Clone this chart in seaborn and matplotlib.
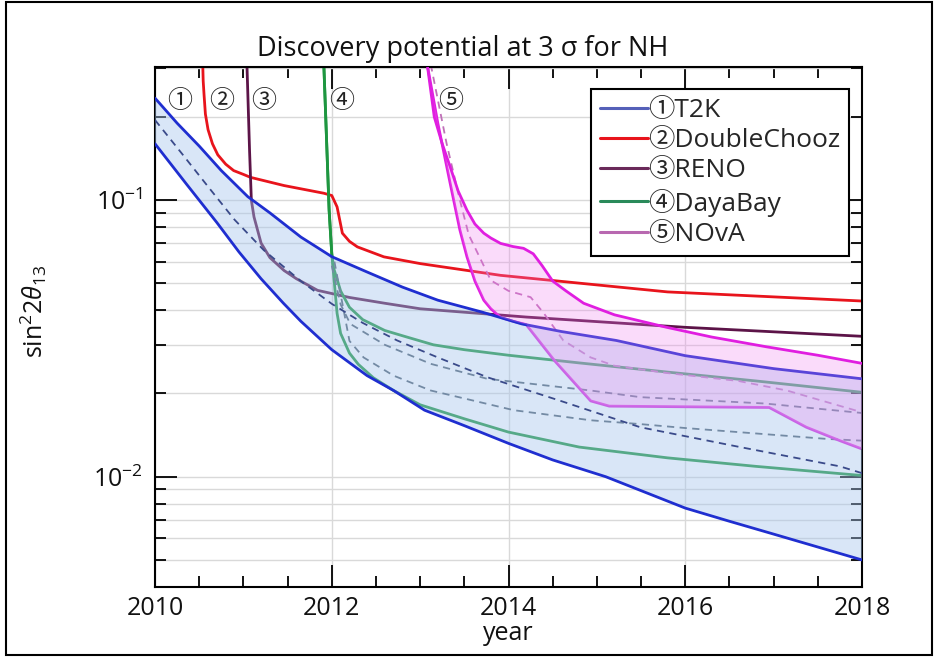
import numpy as np
import pandas as pd
import matplotlib
matplotlib.use("Agg")
import matplotlib.pyplot as plt
import seaborn as sns
from matplotlib.lines import Line2D
from matplotlib.patches import Rectangle
from matplotlib.ticker import MultipleLocator, LogLocator, NullFormatter

# ---------------- data ----------------
t2k_hi_year = [2010.0, 2010.25, 2010.5, 2010.75, 2011.05, 2011.3, 2011.65, 2012.0, 2012.4, 2012.8,
               2013.2, 2013.7, 2014.15, 2014.6, 2015.22, 2016.0, 2017.0, 2018.0]
t2k_hi_val = [0.234, 0.19, 0.157, 0.128, 0.103, 0.090, 0.0736, 0.0625, 0.055, 0.0485,
              0.0435, 0.0394, 0.0357, 0.0335, 0.0311, 0.0274, 0.0246, 0.0226]

t2k_lo_year = [2010.0, 2010.35, 2010.7, 2010.95, 2011.2, 2011.45, 2011.65, 2012.0, 2012.4, 2012.7,
               2013.05, 2013.5, 2014.0, 2014.5, 2015.1, 2016.0, 2016.5, 2017.0, 2018.0]
t2k_lo_val = [0.16, 0.115, 0.083, 0.065, 0.052, 0.0425, 0.0365, 0.0288, 0.0232, 0.0205,
              0.0174, 0.0153, 0.0132, 0.0115, 0.0100, 0.0077, 0.0069, 0.0062, 0.0050]

t2k_mid_year = [2010.0, 2010.3, 2010.6, 2010.9, 2011.23, 2011.65, 2012.0, 2012.35, 2012.74, 2013.2,
                2013.76, 2014.59, 2015.49, 2016.62, 2017.75, 2018.0]
t2k_mid_val = [0.195, 0.148, 0.112, 0.085, 0.066, 0.051, 0.0422, 0.036, 0.0311, 0.027,
               0.0229, 0.0188, 0.0151, 0.0128, 0.0109, 0.0103]

dash_b_year = [2012.0, 2012.1, 2012.21, 2012.6, 2013.12, 2013.76, 2014.93, 2015.49, 2016.9, 2018.0]
dash_b_val = [0.058, 0.042, 0.0357, 0.030, 0.0256, 0.0226, 0.0205, 0.0194, 0.0184, 0.0170]

dash_c_year = [2012.03, 2012.2, 2012.36, 2012.7, 2013.12, 2014.06, 2014.93, 2015.49, 2016.0, 2017.6, 2018.0]
dash_c_val = [0.06, 0.031, 0.027, 0.0232, 0.0205, 0.0174, 0.016, 0.0155, 0.0150, 0.0137, 0.0135]

dc_year = [2010.54, 2010.545, 2010.555, 2010.57, 2010.6, 2010.65, 2010.71, 2010.8, 2010.89, 2011.0,
           2011.08, 2011.46, 2011.91, 2012.0, 2012.06, 2012.12, 2012.2, 2012.29, 2012.59, 2013.0,
           2013.91, 2015.8, 2018.0]
dc_val = [0.31, 0.27, 0.24, 0.205, 0.18, 0.16, 0.146, 0.135, 0.128, 0.124,
          0.121, 0.113, 0.106, 0.104, 0.0946, 0.076, 0.071, 0.0678, 0.0624, 0.059,
          0.0535, 0.0466, 0.0432]

reno_year = [2011.04, 2011.07, 2011.09, 2011.12, 2011.2, 2011.3, 2011.46, 2011.6, 2011.84, 2012.2,
             2012.6, 2013.0, 2013.7, 2014.2, 2016.0, 2018.0]
reno_val = [0.31, 0.15, 0.10, 0.087, 0.070, 0.062, 0.0557, 0.052, 0.0472, 0.0445,
            0.0424, 0.0405, 0.0389, 0.0378, 0.0347, 0.0322]

db_hi_year = [2011.91, 2011.97, 2012.0, 2012.02, 2012.1, 2012.2, 2012.35, 2012.6, 2012.85, 2013.15,
              2013.5, 2014.0, 2014.8, 2015.8, 2016.8, 2018.0]
db_hi_val = [0.31, 0.092, 0.064, 0.057, 0.047, 0.041, 0.037, 0.0338, 0.032, 0.030,
             0.0288, 0.0275, 0.0258, 0.0239, 0.0222, 0.0202]

db_lo_year = [2011.91, 2011.97, 2012.0, 2012.06, 2012.1, 2012.2, 2012.3, 2012.47, 2012.7, 2013.0,
              2013.5, 2014.0, 2014.8, 2015.8, 2016.8, 2018.0]
db_lo_val = [0.31, 0.092, 0.064, 0.039, 0.033, 0.028, 0.0255, 0.0228, 0.0205, 0.0182,
             0.0162, 0.0145, 0.0128, 0.0117, 0.0109, 0.0101]

nova_hi_year = [2013.08, 2013.16, 2013.25, 2013.34, 2013.43, 2013.53, 2013.62, 2013.72, 2013.8, 2013.91,
                2014.05, 2014.17, 2014.28, 2014.38, 2014.5, 2014.65, 2014.85, 2015.2, 2015.79, 2016.3,
                2016.92, 2017.5, 2018.0]
nova_hi_val = [0.31, 0.2, 0.16, 0.132, 0.108, 0.092, 0.082, 0.076, 0.073, 0.0698,
               0.068, 0.067, 0.064, 0.058, 0.051, 0.047, 0.0424, 0.0385, 0.0347, 0.032,
               0.0295, 0.0275, 0.0257]

nova_lo_year = [2013.08, 2013.2, 2013.34, 2013.45, 2013.53, 2013.62, 2013.72, 2013.8, 2013.91, 2014.05,
                2014.2, 2014.52, 2014.93, 2015.14, 2016.95, 2017.37, 2017.75, 2018.0]
nova_lo_val = [0.31, 0.19, 0.115, 0.078, 0.0624, 0.051, 0.0435, 0.0405, 0.0377, 0.0365,
               0.0355, 0.0263, 0.0188, 0.018, 0.0178, 0.0151, 0.0135, 0.0126]

nova_mid_year = [2013.12, 2013.3, 2013.45, 2013.55, 2013.8, 2014.0, 2014.25, 2014.4, 2014.62, 2014.93,
                 2015.2, 2015.8, 2016.6, 2017.15, 2018.0]
nova_mid_val = [0.31, 0.16, 0.10, 0.075, 0.0513, 0.047, 0.0446, 0.039, 0.0311, 0.027,
                0.0252, 0.0237, 0.0222, 0.0205, 0.0171]

experiments = ["T2K", "DoubleChooz", "RENO", "DayaBay", "NOvA"]
markers = ["\u2460", "\u2461", "\u2462", "\u2463", "\u2464"]
marker_year = [2010.28, 2010.75, 2011.23, 2012.11, 2013.35]
marker_val = [0.228, 0.228, 0.228, 0.228, 0.228]

title = "Discovery potential at 3 \u03c3 for NH"
xlabel = "year"
ylabel = r"$\mathrm{sin}^{2}2\theta_{13}$"
x_ticks = [2010, 2012, 2014, 2016, 2018]

# ---------------- style ----------------
sns.set_theme(style="white")
plt.rcParams["font.family"] = ["Open Sans", "Noto Sans CJK JP", "DejaVu Sans"]
plt.rcParams["mathtext.fontset"] = "custom"
plt.rcParams["mathtext.rm"] = "Open Sans"
plt.rcParams["mathtext.it"] = "Open Sans:italic"
plt.rcParams["mathtext.bf"] = "Open Sans:bold"

C_BLUE = "#1f2ed0"
C_RED = "#e8141c"
C_RENO = "#5c1448"
C_GREEN = "#1e9640"
C_MAG = "#e01ee0"
C_DASH = "#3a4a8a"

fig = plt.figure(figsize=(9.39, 6.62), dpi=100)
fig.patch.set_facecolor("white")
ax = fig.add_axes([0.1651, 0.1137, 0.918 - 0.1651, 0.8992 - 0.1137])
ax.set_facecolor("white")
ax.set_yscale("log")

LW = 2.0

def line(xs, ys, color, lw=LW, z=2, **kw):
    sns.lineplot(x=np.asarray(xs), y=np.asarray(ys), ax=ax, color=color, lw=lw,
                 sort=False, estimator=None, zorder=z, legend=False, **kw)

# lines under the fills
line(dc_year, dc_val, C_RED)
line(reno_year, reno_val, C_RENO)
line(db_hi_year, db_hi_val, C_GREEN)
line(db_lo_year, db_lo_val, C_GREEN)
line(dash_b_year, dash_b_val, "#506070", lw=1.3, linestyle=(0, (4, 3)))
line(dash_c_year, dash_c_val, "#506070", lw=1.3, linestyle=(0, (4, 3)))
line(nova_lo_year, nova_lo_val, C_MAG)
line(nova_mid_year, nova_mid_val, "#c070b8", lw=1.3, linestyle=(0, (4, 3)))

# T2K band
poly_x = list(t2k_hi_year) + list(t2k_lo_year)[::-1]
poly_y = list(t2k_hi_val) + list(t2k_lo_val)[::-1]
ax.fill(poly_x, poly_y, color="#a5c5ed", alpha=0.42, lw=0, zorder=3)
line(t2k_hi_year, t2k_hi_val, C_BLUE, z=3.5)
line(t2k_lo_year, t2k_lo_val, C_BLUE, z=3.5)
line(t2k_mid_year, t2k_mid_val, C_DASH, lw=1.3, z=3.5, linestyle=(0, (4, 3)))

# NOvA band
poly_x = list(nova_hi_year) + list(nova_lo_year)[::-1]
poly_y = list(nova_hi_val) + list(nova_lo_val)[::-1]
ax.fill(poly_x, poly_y, color="#f080f0", alpha=0.28, lw=0, zorder=4)
line(nova_hi_year, nova_hi_val, C_MAG, z=5)

# circled numbers
for m, xx, yy in zip(markers, marker_year, marker_val):
    ax.text(xx, yy, m, ha="center", va="center", fontsize=18,
            family=["Noto Sans CJK JP", "DejaVu Sans"], color="#222222", zorder=6)

# axes
ax.set_xlim(2010, 2018)
ax.set_ylim(0.004, 0.304)
ax.xaxis.set_major_locator(MultipleLocator(2))
ax.xaxis.set_minor_locator(MultipleLocator(0.5))
ax.set_xticks(x_ticks)
ax.set_xticklabels([str(t) for t in x_ticks])
ax.yaxis.set_major_locator(LogLocator(base=10))
ax.yaxis.set_minor_locator(LogLocator(base=10, subs=np.arange(2, 10)))
ax.yaxis.set_minor_formatter(NullFormatter())

ax.grid(True, which="both", axis="y", color="#d9d9d9", lw=1.0)
ax.grid(True, which="major", axis="x", color="#d9d9d9", lw=1.0)
ax.set_axisbelow(True)

ax.tick_params(which="both", direction="in", top=True, right=True, bottom=True, left=True,
               color="black", width=1.3, labelsize=18, labelcolor="#111111")
ax.tick_params(which="major", length=16)
ax.tick_params(which="minor", length=8)
ax.tick_params(axis="x", which="major", pad=7)
ax.tick_params(axis="y", which="major", pad=9)
for s in ax.spines.values():
    s.set_color("black")
    s.set_linewidth(1.5)

ax.set_title(title, fontsize=19.5, pad=8, color="#111111", x=0.435)
ax.set_xlabel(xlabel, fontsize=18, labelpad=0, color="#111111")
ax.set_ylabel(ylabel, fontsize=18, color="#111111")
ax.yaxis.set_label_coords(-0.15, 0.53)

# legend
leg_colors = ["#5560b8", C_RED, "#6a2a5a", "#2a8a5a", "#b868b0"]
handles = [Line2D([0], [0], color=c, lw=2.2) for c in leg_colors]
labels = [m + e for m, e in zip(markers, experiments)]
leg = ax.legend(handles, labels, loc="upper right", bbox_to_anchor=(0.982, 0.958),
                fontsize=19, frameon=True, fancybox=False, framealpha=1,
                edgecolor="black", handlelength=1.8, handletextpad=0.0,
                labelspacing=0.2, borderpad=0.35, borderaxespad=0)
leg.get_frame().set_linewidth(1.5)
leg.set_zorder(10)

# outer frame
fig.patches.append(Rectangle((6 / 939, 7 / 662), 926 / 939, 653 / 662, transform=fig.transFigure,
                             fill=False, edgecolor="black", lw=1.5))

fig.savefig("out.png", dpi=100)
